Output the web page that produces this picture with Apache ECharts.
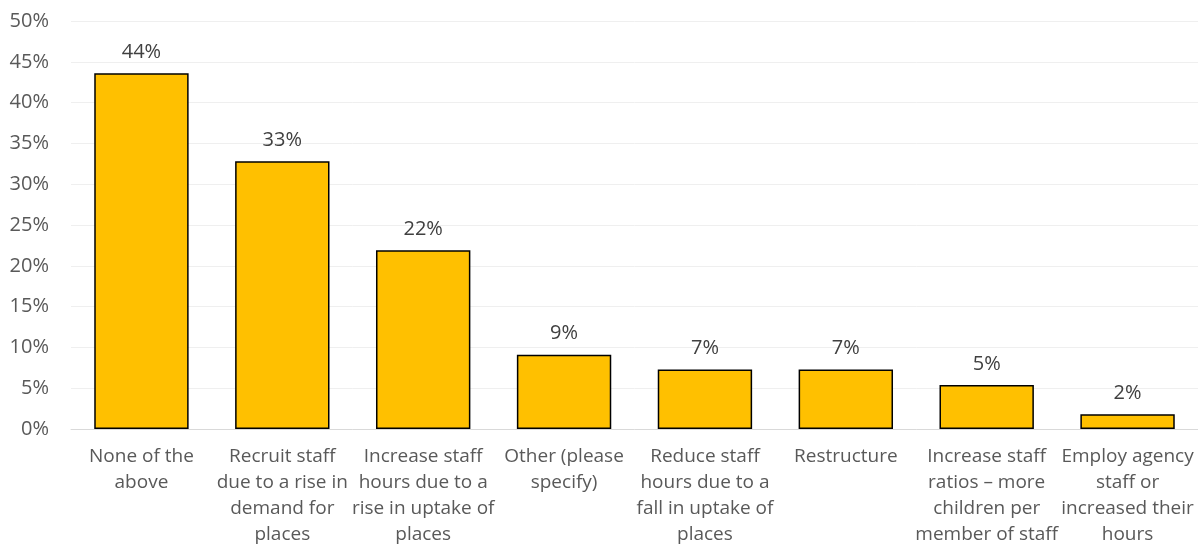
<!DOCTYPE html>
<html>
<head>
<meta charset="utf-8">
<script src="https://cdn.jsdelivr.net/npm/echarts@6/dist/echarts.min.js"></script>
<style>html,body{margin:0;padding:0;background:#fff}#c{width:1198px;height:548px}</style>
</head>
<body>
<div id="c"></div>
<script>
const categories = [
  "None of the\nabove",
  "Recruit staff\ndue to a rise in\ndemand for\nplaces",
  "Increase staff\nhours due to a\nrise in uptake of\nplaces",
  "Other (please\nspecify)",
  "Reduce staff\nhours due to a\nfall in uptake of\nplaces",
  "Restructure",
  "Increase staff\nratios – more\nchildren per\nmember of staff",
  "Employ agency\nstaff or\nincreased their\nhours"
];
const values = [43.6, 32.8, 21.9, 9.1, 7.3, 7.3, 5.4, 1.8];
const labels = ["44%", "33%", "22%", "9%", "7%", "7%", "5%", "2%"];

const FONT = "'Open Sans', 'Liberation Sans', sans-serif";
const chart = echarts.init(document.getElementById('c'), null, {renderer: 'canvas'});
chart.setOption({
  animation: false,
  grid: {left: 71, right: 0, top: 21, bottom: 118, containLabel: false},
  xAxis: {
    type: 'category',
    data: categories,
    axisLine: {lineStyle: {color: '#D9D9D9', width: 1}},
    axisTick: {show: false},
    axisLabel: {
      interval: 0, color: '#595959', fontFamily: FONT, fontSize: 19,
      lineHeight: 26, margin: 15
    }
  },
  yAxis: {
    type: 'value', min: 0, max: 50, interval: 5,
    axisLine: {show: false}, axisTick: {show: false},
    splitLine: {lineStyle: {color: '#EFEFEF', width: 1}},
    axisLabel: {
      color: '#595959', fontFamily: FONT, fontSize: 20, margin: 22,
      formatter: v => v + '%'
    }
  },
  series: [{
    type: 'bar',
    data: values,
    barWidth: '67%',
    itemStyle: {color: '#FFC000', borderColor: '#000', borderWidth: 1.5},
    label: {
      show: true, position: 'top', distance: 11,
      color: '#404040', fontFamily: FONT, fontSize: 20,
      formatter: p => labels[p.dataIndex]
    }
  }]
});
</script>
</body>
</html>
